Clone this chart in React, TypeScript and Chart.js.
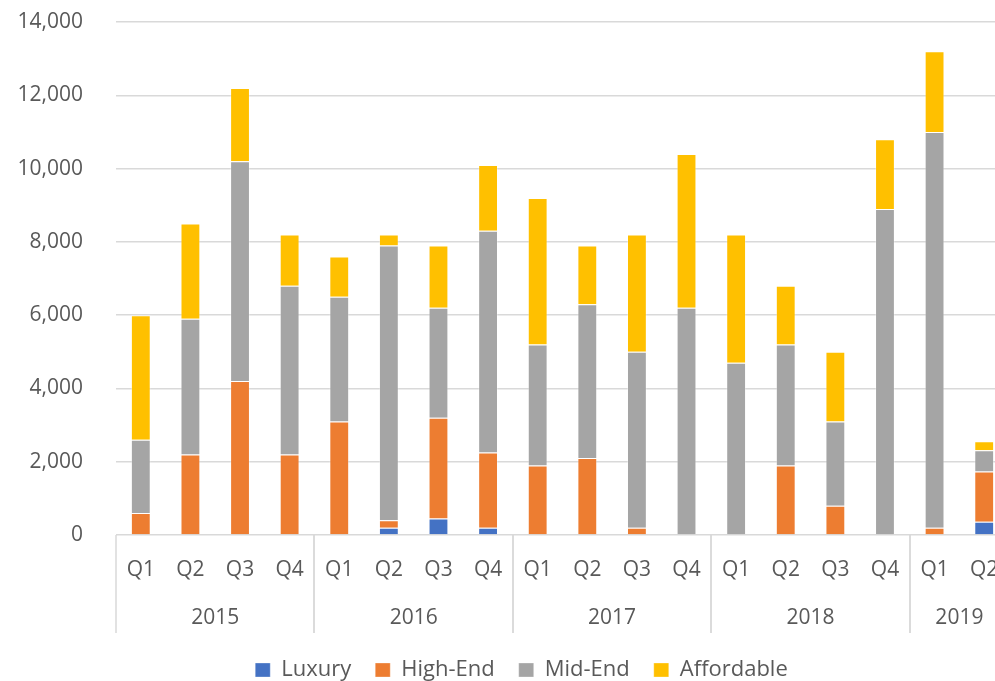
import React, { useEffect, useRef } from 'react';
import { Chart, registerables } from 'chart.js';

Chart.register(...registerables);

const quarters = ['Q1', 'Q2', 'Q3', 'Q4', 'Q1', 'Q2', 'Q3', 'Q4', 'Q1', 'Q2', 'Q3', 'Q4', 'Q1', 'Q2', 'Q3', 'Q4', 'Q1', 'Q2'];
const quarterYears = ['2015', '2015', '2015', '2015', '2016', '2016', '2016', '2016', '2017', '2017', '2017', '2017', '2018', '2018', '2018', '2018', '2019', '2019'];

const luxury = [0, 0, 0, 0, 0, 200, 450, 200, 0, 0, 0, 0, 0, 0, 0, 0, 0, 360];
const highEnd = [600, 2200, 4200, 2200, 3100, 200, 2750, 2050, 1900, 2100, 200, 0, 0, 1900, 800, 0, 200, 1370];
const midEnd = [2000, 3700, 6000, 4600, 3400, 7500, 3000, 6050, 3300, 4200, 4800, 6200, 4700, 3300, 2300, 8900, 10800, 580];
const affordable = [3400, 2600, 2000, 1400, 1100, 300, 1700, 1800, 4000, 1600, 3200, 4200, 3500, 1600, 1900, 1900, 2200, 250];

const yTicks = [0, 2000, 4000, 6000, 8000, 10000, 12000, 14000];

const seriesNames = ['Luxury', 'High-End', 'Mid-End', 'Affordable'];
const seriesColors = ['#4472C4', '#ED7D31', '#A5A5A5', '#FFC000'];

const TEXT = '#595959';
const GRID = '#d9d9d9';
const FONT = "'Open Sans', sans-serif";

const yearPlugin = {
  id: 'yearGroups',
  afterDraw(chart: any) {
    const xs = chart.scales.x;
    const ctx = chart.ctx;
    const bottom = chart.chartArea.bottom;
    const groups: { year: string; start: number; end: number }[] = [];
    quarterYears.forEach((y, i) => {
      const last = groups[groups.length - 1];
      if (!last || last.year !== y) groups.push({ year: y, start: i, end: i });
      else last.end = i;
    });
    const half = (xs.getPixelForValue(1) - xs.getPixelForValue(0)) / 2;
    ctx.save();
    ctx.strokeStyle = GRID;
    ctx.lineWidth = 1.5;
    ctx.fillStyle = TEXT;
    ctx.font = `21px ${FONT}`;
    ctx.textAlign = 'center';
    ctx.textBaseline = 'middle';
    groups.forEach((g) => {
      const x0 = xs.getPixelForValue(g.start) - half;
      const x1 = xs.getPixelForValue(g.end) + half;
      [x0, x1].forEach((xx) => {
        ctx.beginPath();
        ctx.moveTo(Math.round(xx), bottom);
        ctx.lineTo(Math.round(xx), bottom + 98);
        ctx.stroke();
      });
      ctx.fillText(g.year, (x0 + x1) / 2, bottom + 83);
    });
    ctx.restore();
  },
};

const legendShiftPlugin = {
  id: 'legendShift',
  afterLayout(chart: any) {
    const l = chart.legend;
    if (l) {
      l.left += 17;
      l.right += 17;
    }
  },
};

export default function App() {
  const ref = useRef<HTMLCanvasElement>(null);

  useEffect(() => {
    document.body.style.margin = '0';
    const canvas = ref.current!;
    const values = [luxury, highEnd, midEnd, affordable];
    const chart = new Chart(canvas, {
      type: 'bar',
      data: {
        labels: quarters,
        datasets: seriesNames.map((name, i) => ({
          label: name,
          data: values[i],
          backgroundColor: seriesColors[i],
          borderColor: 'rgba(255,255,255,0.3)',
          borderWidth: 1,
          barPercentage: 0.4,
          categoryPercentage: 1,
        })),
      },
      options: {
        responsive: false,
        animation: false,
        layout: { padding: { top: 22, left: 0, right: 21, bottom: 0 } },
        plugins: {
          tooltip: { enabled: false },
          legend: {
            position: 'bottom',
            labels: {
              boxWidth: 15,
              boxHeight: 14,
              padding: 24,
              color: TEXT,
              font: { family: FONT, size: 22 },
            },
          },
        },
        scales: {
          x: {
            stacked: true,
            grid: { display: false, drawTicks: false },
            border: { display: false },
            ticks: {
              color: TEXT,
              font: { family: FONT, size: 21 },
              padding: 22,
              maxRotation: 0,
              autoSkip: false,
            },
            afterFit: (s: any) => {
              s.height = 100;
            },
          },
          y: {
            stacked: true,
            min: 0,
            max: 14000,
            afterBuildTicks: (s: any) => {
              s.ticks = yTicks.map((v) => ({ value: v }));
            },
            grid: {
              color: GRID,
              lineWidth: 1.5,
              drawTicks: true,
              tickLength: 33,
              tickColor: 'rgba(0,0,0,0)',
            },
            border: { display: false },
            ticks: {
              color: TEXT,
              font: { family: FONT, size: 21 },
              padding: 0,
              callback: (v: any) => Number(v).toLocaleString('en-US'),
            },
            afterFit: (s: any) => {
              s.width = 116;
            },
          },
        },
      },
      plugins: [yearPlugin, legendShiftPlugin],
    });
    return () => chart.destroy();
  }, []);

  return (
    <div style={{ width: 995, height: 681, overflow: 'hidden', position: 'relative' }}>
      <canvas ref={ref} width={1030} height={691} style={{ width: 1030, height: 691, display: 'block' }} />
    </div>
  );
}
